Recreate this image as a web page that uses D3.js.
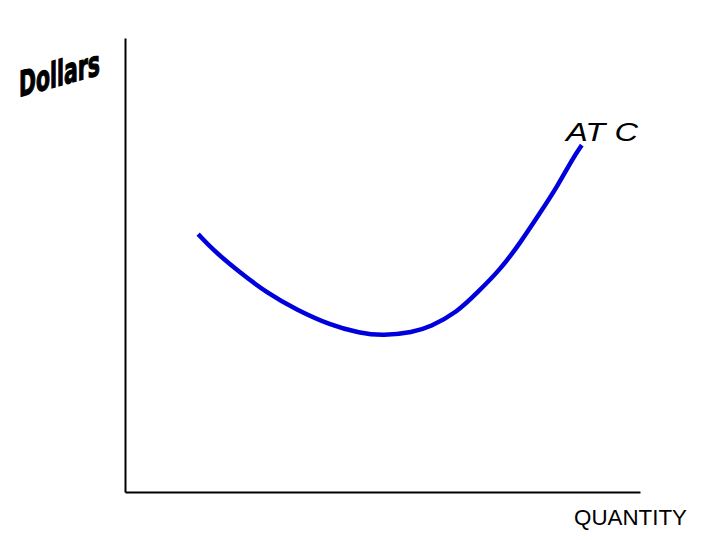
<!DOCTYPE html>
<html>
<head>
<meta charset="utf-8">
<script src="https://cdn.jsdelivr.net/npm/d3@7"></script>
<style>
  body { margin: 0; background: #fff; }
  svg { display: block; }
</style>
</head>
<body>
<div id="chart"></div>
<script>
// ATC curve (quantity units, dollar units)
const quantity = [14.2, 17.1, 21.7, 27.6, 33.4, 39.8, 45.6, 50.1, 55.9, 59.2, 64.5, 68.3, 72.8, 76.7, 80.6, 83.9, 87.0, 88.7];
const atc      = [56.8, 53.3, 48.9, 43.8, 40.1, 36.8, 35.0, 34.4, 35.2, 36.3, 39.6, 43.8, 48.9, 54.8, 61.5, 67.2, 73.6, 76.4];
const xDomain = [0, 100];
const yDomain = [0, 100];

const width = 720, height = 540;
const margin = { top: 38, right: 80, bottom: 48, left: 125 };

const svg = d3.select('#chart').append('svg')
  .attr('width', width)
  .attr('height', height);

const x = d3.scaleLinear().domain(xDomain).range([margin.left, width - margin.right]);
const y = d3.scaleLinear().domain(yDomain).range([height - margin.bottom, margin.top]);

//Axes without ticks, just the two lines
svg.append('g')
  .attr('class', 'axis axis-x')
  .attr('transform', 'translate(0,' + (height - margin.bottom) + ')')
  .call(d3.axisBottom(x).tickValues([]).tickSizeOuter(0));

svg.append('g')
  .attr('class', 'axis axis-y')
  .attr('transform', 'translate(' + margin.left + ',0)')
  .call(d3.axisLeft(y).tickValues([]).tickSizeOuter(0));

svg.selectAll('.axis path')
  .attr('stroke', '#000')
  .attr('stroke-width', 2);

const line = d3.line()
  .curve(d3.curveBasis)
  .x((d, i) => x(quantity[i]))
  .y(d => y(d));

svg.append('path')
  .datum(atc)
  .attr('fill', 'none')
  .attr('stroke', '#0000dd')
  .attr('stroke-width', 4.5)
  .attr('stroke-linecap', 'butt')
  .attr('d', line);

//Labels
svg.append('text')
  .attr('transform', 'translate(19,97) skewY(-15.5) scale(1,1.6)')
  .attr('textLength', 81)
  .attr('lengthAdjust', 'spacingAndGlyphs')
  .style('font-family', '"DejaVu Sans", sans-serif')
  .style('font-weight', 'bold')
  .style('font-size', '22px')
  .attr('fill', '#000')
  .attr('stroke', '#000')
  .attr('stroke-width', 0.8)
  .text('Dollars');

svg.append('text')
  .attr('x', 566)
  .attr('y', 141)
  .attr('textLength', 72)
  .attr('lengthAdjust', 'spacingAndGlyphs')
  .style('font-family', '"Liberation Sans", Arial, sans-serif')
  .style('font-style', 'italic')
  .style('font-size', '25px')
  .attr('fill', '#000')
  .text('AT C');

svg.append('text')
  .attr('x', 574)
  .attr('y', 525)
  .attr('textLength', 113)
  .attr('lengthAdjust', 'spacingAndGlyphs')
  .style('font-family', '"Liberation Sans", Arial, sans-serif')
  .style('font-size', '22px')
  .attr('fill', '#000')
  .text('QUANTITY');
</script>
</body>
</html>
